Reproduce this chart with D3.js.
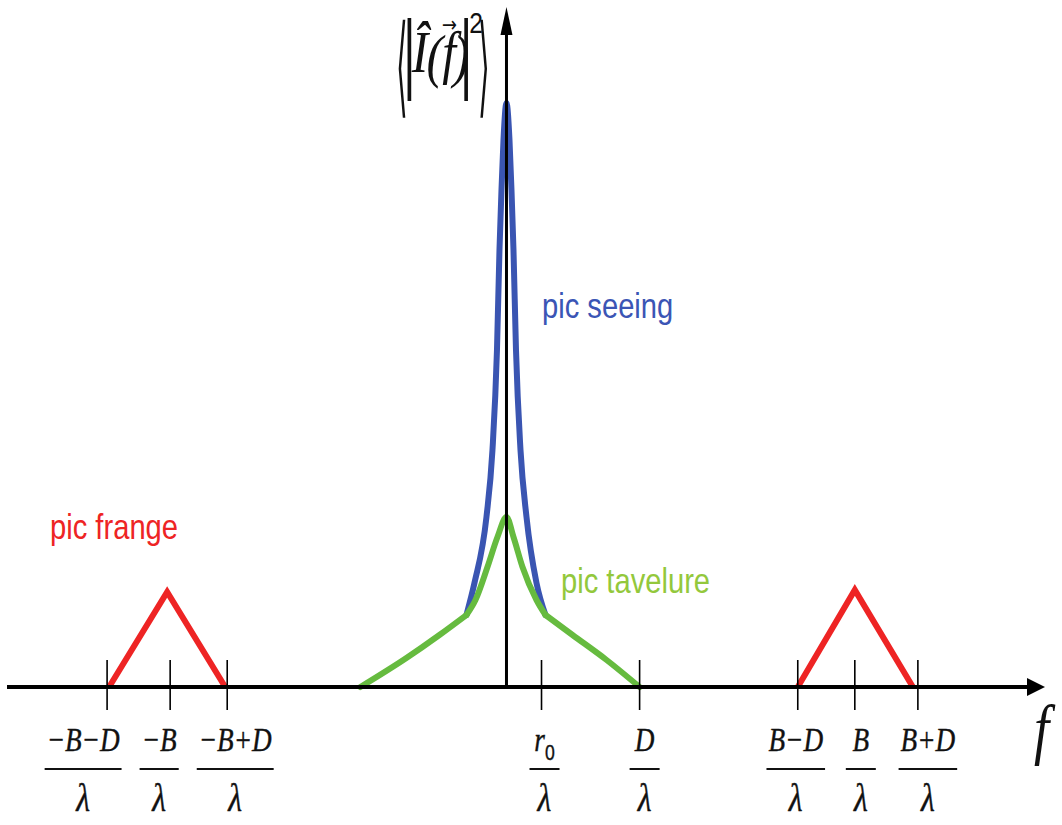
<!DOCTYPE html>
<html><head><meta charset="utf-8">
<script src="https://cdn.jsdelivr.net/npm/d3@7"></script>
<style>body{margin:0;background:#fff;overflow:hidden}</style>
</head><body><svg id="c" width="1062" height="825"></svg>
<script>
// ---------- data (arbitrary units) ----------
const tickValues = [-3.99, -3.36, -2.79, 0.35, 1.33, 2.91, 3.48, 4.11];
const tickNumerators = ["−B−D", "−B", "−B+D", "r", "D", "B−D", "B", "B+D"];
const tickSubscripts = ["", "", "", "0", "", "", "", ""];
const tickDenominator = "λ";

const seeingX = [-0.40, -0.32, -0.20, -0.14, -0.095, -0.07, -0.05, -0.03, 0, 0.03, 0.05, 0.07, 0.095, 0.14, 0.20, 0.30, 0.39];
const seeingY = [0.72, 1.04, 1.70, 2.37, 3.37, 4.37, 4.97, 5.47, 5.84, 5.47, 4.97, 4.37, 3.37, 2.37, 1.70, 1.04, 0.72];

const tavelureLeftX = [-1.46, -1.00, -0.67, -0.40];
const tavelureLeftY = [0, 0.29, 0.52, 0.72];
const tavelureCoreX = [-0.40, -0.31, -0.19, -0.09, 0, 0.07, 0.16, 0.30, 0.39];
const tavelureCoreY = [0.72, 0.87, 1.20, 1.50, 1.70, 1.50, 1.20, 0.87, 0.72];
const tavelureRightX = [0.39, 0.66, 1.00, 1.33];
const tavelureRightY = [0.72, 0.52, 0.27, 0];

const frangeLeftX = [-3.97, -3.39, -2.81];
const frangeLeftY = [0, 0.95, 0];
const frangeRightX = [2.91, 3.48, 4.06];
const frangeRightY = [0, 0.97, 0];

const seriesNames = ["pic seeing", "pic tavelure", "pic frange"];
const axisNameX = "f";

// ---------- layout ----------
const xDomain = [-4.99, 5.38], yDomain = [0, 6.80];
const x = d3.scaleLinear().domain(xDomain).range([7, 1045]);
const y = d3.scaleLinear().domain(yDomain).range([687, 7]);
const labelDx = [-24, -11, 8, 3, 5, -2, 6, 10];
const colors = {seeing: "#3a55b2", tavelure: "#66bb3f", frange: "#ee2424",
  seeingText: "#3b55b5", tavelureText: "#93c83c", frangeText: "#ee2424"};

const svg = d3.select("#c");
const zip = (xs, ys) => xs.map((v, i) => [v, ys[i]]);
const lineSmooth = d3.line().x(d => x(d[0])).y(d => y(d[1])).curve(d3.curveMonotoneX);
const lineStraight = d3.line().x(d => x(d[0])).y(d => y(d[1]));

// curves
const g = svg.append("g").attr("fill", "none").attr("stroke-width", 6)
  .attr("stroke-linejoin", "round").attr("stroke-linecap", "round");
g.append("path").attr("d", lineSmooth(zip(seeingX, seeingY))).attr("stroke", colors.seeing);
g.append("path").attr("d", lineSmooth(zip(tavelureLeftX, tavelureLeftY))).attr("stroke", colors.tavelure);
g.append("path").attr("d", lineSmooth(zip(tavelureCoreX, tavelureCoreY))).attr("stroke", colors.tavelure);
g.append("path").attr("d", lineSmooth(zip(tavelureRightX, tavelureRightY))).attr("stroke", colors.tavelure);
g.append("path").attr("d", lineStraight(zip(frangeLeftX, frangeLeftY))).attr("stroke", colors.frange).attr("stroke-linejoin", "miter").attr("stroke-linecap", "butt");
g.append("path").attr("d", lineStraight(zip(frangeRightX, frangeRightY))).attr("stroke", colors.frange).attr("stroke-linejoin", "miter").attr("stroke-linecap", "butt");

// axes
const axX = d3.axisBottom(x).tickValues(tickValues).tickSize(0).tickFormat("");
const axG = svg.append("g").attr("transform", `translate(0,${y(0)})`).call(axX);
axG.select(".domain").remove();
svg.append("line").attr("x1", x(xDomain[0])).attr("x2", x(xDomain[1]) - 14)
  .attr("y1", y(0)).attr("y2", y(0)).attr("stroke", "#000").attr("stroke-width", 4);
svg.append("path").attr("d", `M${x(xDomain[1])},${y(0)} L${x(xDomain[1]) - 18},${y(0) - 9} L${x(xDomain[1]) - 18},${y(0) + 9} Z`).attr("fill", "#000");
svg.append("line").attr("x1", x(0)).attr("x2", x(0))
  .attr("y1", y(0)).attr("y2", y(yDomain[1]) + 20).attr("stroke", "#000").attr("stroke-width", 3);
svg.append("path").attr("d", `M${x(0)},${y(yDomain[1])} L${x(0) - 6},${y(yDomain[1]) + 28} L${x(0) + 6},${y(yDomain[1]) + 28} Z`).attr("fill", "#000");

// tick marks
svg.append("g").selectAll("line").data(tickValues).join("line")
  .attr("x1", d => x(d)).attr("x2", d => x(d))
  .attr("y1", y(0) - 27).attr("y2", y(0) + 23)
  .attr("stroke", "#000").attr("stroke-width", 1.6);

// fraction labels
const sx = 0.8;
tickValues.forEach((v, i) => {
  const cx = x(v) + labelDx[i];
  const lg = svg.append("g").attr("transform", `translate(${cx},0)`);
  const num = lg.append("text").attr("transform", `translate(0,751) scale(${sx},1)`)
    .attr("text-anchor", "middle").attr("font-family", "Liberation Serif, DejaVu Serif, serif")
    .attr("font-style", "italic").attr("font-size", 34).attr("fill", "#111")
    .attr("stroke", "#111").attr("stroke-width", 0.4);
  num.append("tspan").text(tickNumerators[i]);
  if (tickSubscripts[i]) {
    num.append("tspan").attr("font-style", "normal").attr("font-family", "Liberation Sans, Arial, sans-serif")
      .attr("font-size", 22).attr("dy", 9).text(tickSubscripts[i]);
  }
  const bw = Math.max(num.node().getBBox().width * sx + 4, 30);
  lg.append("line").attr("x1", -bw / 2).attr("x2", bw / 2).attr("y1", 769).attr("y2", 769)
    .attr("stroke", "#111").attr("stroke-width", 2);
  lg.append("text").attr("transform", `translate(0,811) scale(${sx},1)`).attr("text-anchor", "middle")
    .attr("font-family", "Liberation Serif, DejaVu Serif, serif").attr("font-style", "italic")
    .attr("font-size", 40).attr("fill", "#111").attr("stroke", "#111").attr("stroke-width", 0.4)
    .text(tickDenominator);
});

// axis name f
svg.append("text").attr("transform", "translate(1034,752) scale(0.8,1)")
  .attr("font-family", "Liberation Serif, DejaVu Serif, serif").attr("font-style", "italic")
  .attr("font-size", 68).attr("fill", "#111").text(axisNameX);

// series labels
const lab = (t, xx, yy, c) => svg.append("text").attr("transform", `translate(${xx},${yy}) scale(0.81,1)`)
  .attr("font-family", "Liberation Sans, Arial, sans-serif").attr("font-size", 36).attr("fill", c).text(t);
lab(seriesNames[0], 542, 318, colors.seeingText);
lab(seriesNames[1], 561, 593, colors.tavelureText);
lab(seriesNames[2], 50, 539, colors.frangeText);

// y-axis label ⟨|Î(f⃗)|²⟩
const yl = svg.append("g").attr("fill", "#111");
yl.append("text").attr("transform", "translate(396,103) scale(0.3,1.1)")
  .attr("font-family", "DejaVu Sans").attr("font-size", 100).text("⟨");
yl.append("text").attr("transform", "translate(478,103) scale(0.3,1.1)")
  .attr("font-family", "DejaVu Sans").attr("font-size", 100).text("⟩");
const ym = yl.append("text").attr("transform", "translate(402,0) scale(0.82,1)")
  .attr("font-family", "Liberation Serif, DejaVu Serif, serif");
ym.append("tspan").attr("y", 82).attr("font-size", 90).text("|");
ym.append("tspan").attr("y", 72).attr("dx", -6).attr("font-size", 60).attr("font-style", "italic").text("Î");
ym.append("tspan").attr("y", 76).attr("dx", -2).attr("font-size", 60).attr("font-style", "italic").text("(");
ym.append("tspan").attr("y", 72).attr("dx", -1).attr("font-size", 60).attr("font-style", "italic").text("f");
ym.append("tspan").attr("y", 32).attr("dx", -17).attr("font-size", 22).attr("font-family", "DejaVu Sans").text("→");
ym.append("tspan").attr("y", 76).attr("dx", -5).attr("font-size", 60).attr("font-style", "italic").text(")");
ym.append("tspan").attr("y", 82).attr("dx", -13).attr("font-size", 90).text("|");
ym.append("tspan").attr("y", 33).attr("dx", -5).attr("font-size", 30).attr("font-family", "Liberation Sans, Arial, sans-serif").text("2");
</script></body></html>
